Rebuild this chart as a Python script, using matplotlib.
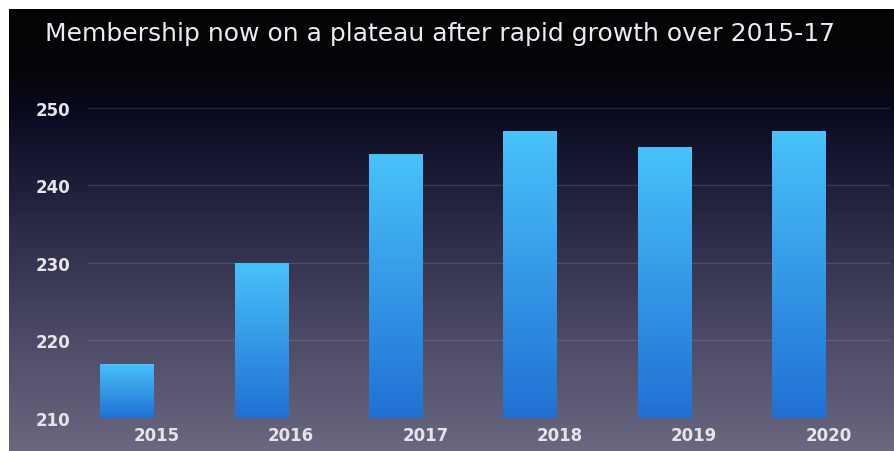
import numpy as np
import matplotlib
matplotlib.use("Agg")
import matplotlib.pyplot as plt
from matplotlib.colors import LinearSegmentedColormap

years = ["2015", "2016", "2017", "2018", "2019", "2020"]
members = [217, 230, 244, 247, 245, 247]
yticks = [210, 220, 230, 240, 250]
title = "Membership now on a plateau after rapid growth over 2015-17"

plt.rcParams['font.family'] = ['DejaVu Sans']

fig = plt.figure(figsize=(8.94, 4.52), dpi=100)
fig.patch.set_facecolor('white')

# background gradient panel
bg = fig.add_axes([9/894, 0, 1 - 9/894, 1 - 10/452])
bg.set_axis_off()
bg_cmap = LinearSegmentedColormap.from_list(
    "bg", [(0.0, "#040406"), (0.14, "#050509"), (0.24, "#0a0a22"),
           (0.5, "#2c2b48"), (0.75, "#4d4b67"), (1.0, "#6a6780")])
grad = np.linspace(0, 1, 256).reshape(-1, 1)
bg.imshow(grad, aspect='auto', cmap=bg_cmap, extent=[0, 1, 0, 1], origin='upper')
bg.set_xlim(0, 1); bg.set_ylim(0, 1)

ax = fig.add_axes([88/894, 33/452, (890-88)/894, (419-70)/452])
ax.patch.set_alpha(0)
x = np.arange(len(years))
bars = ax.bar(x, [m - 210 for m in members], bottom=210, width=0.40,
              color='none', edgecolor='none', zorder=3)
bar_cmap = LinearSegmentedColormap.from_list("bar", ["#2170d4", "#48c2f9"])
for b in bars:
    x0, y0 = b.get_x(), b.get_y()
    w, h = b.get_width(), b.get_height()
    im = ax.imshow(np.linspace(0, 1, 256).reshape(-1, 1), cmap=bar_cmap,
                   origin='lower', aspect='auto',
                   extent=[x0, x0 + w, y0, y0 + h], zorder=3)
    im.set_clip_path(b)

ax.set_xlim(-0.29, 5.677)
ax.set_ylim(210, 255)
ax.set_yticks(yticks)
ax.set_yticklabels([str(v) for v in yticks])
ax.set_xticks(x + 0.22)
ax.set_xticklabels(years)
ax.tick_params(axis='both', length=0, colors='#e4e4ea', labelsize=12)
for lab in ax.get_xticklabels() + ax.get_yticklabels():
    lab.set_fontweight('semibold')
ax.tick_params(axis='y', pad=13)
ax.tick_params(axis='x', pad=6)
ax.grid(axis='y', color='white', alpha=0.12, linewidth=1.0, zorder=1)
for s in ax.spines.values():
    s.set_visible(False)

fig.text(45/894, 1 - 41/452, title, color='#ececf0', fontsize=18,
         va='baseline', ha='left')

fig.savefig("out.png", dpi=100)
